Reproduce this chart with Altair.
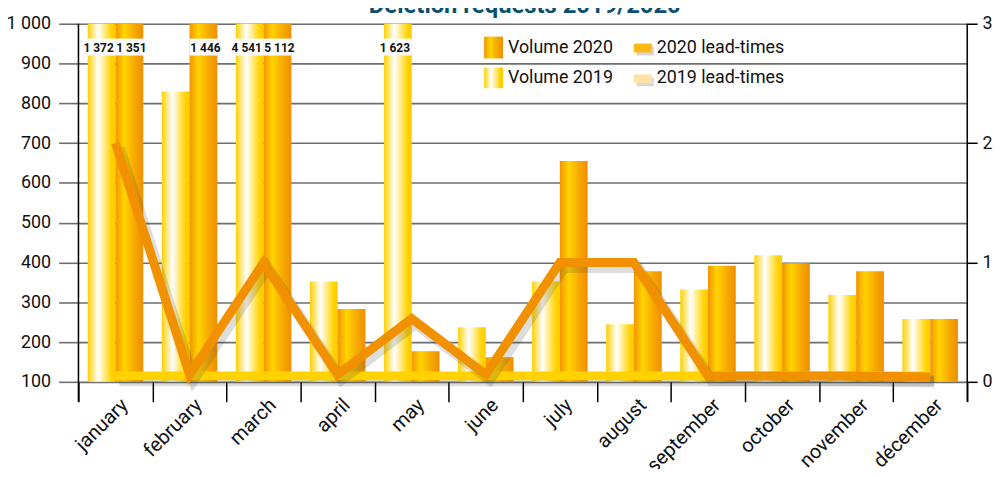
import altair as alt
import pandas as pd

months = ["january", "february", "march", "april", "may", "june", "july",
          "august", "september", "october", "november", "décember"]
vol_2019 = [1372, 830, 4541, 352, 1623, 237, 352, 245, 332, 418, 318, 258]
vol_2020 = [1351, 1446, 5112, 283, 177, 162, 655, 378, 392, 398, 378, 258]
lead_2019 = [0.05, 0.05, 0.05, 0.05, 0.05, 0.05, 0.05, 0.05, 0.05, 0.05, 0.05, 0.05]
lead_2020 = [2.0, 0.06, 1.0, 0.06, 0.53, 0.06, 1.0, 1.0, 0.05, 0.05, 0.05, 0.04]
left_ticks = [100, 200, 300, 400, 500, 600, 700, 800, 900, 1000]
right_ticks = [0, 1, 2, 3]
title_text = "Deletion requests 2019/2020"
legend_bars = ["Volume 2020", "Volume 2019"]
legend_lines = ["2020 lead-times", "2019 lead-times"]

FONT = "Roboto"
W, H = 896, 361
CAP = 1000

rows = []
for i, m in enumerate(months):
    rows.append({"month": m, "year": "2019", "vol": vol_2019[i], "lead": lead_2019[i]})
    rows.append({"month": m, "year": "2020", "vol": vol_2020[i], "lead": lead_2020[i]})
df = pd.DataFrame(rows)
df["label"] = df["vol"].map(lambda v: f"{v:,}".replace(",", " "))
df["over"] = df["vol"] > CAP

g2019 = alt.LinearGradient(gradient="linear", x1=0, x2=1, y1=0, y2=0, stops=[
    alt.GradientStop(color="#FFD000", offset=0),
    alt.GradientStop(color="#FFFFFF", offset=0.38),
    alt.GradientStop(color="#FFD400", offset=0.85),
    alt.GradientStop(color="#FFC800", offset=1)])
g2020 = alt.LinearGradient(gradient="linear", x1=0, x2=1, y1=0, y2=0, stops=[
    alt.GradientStop(color="#F29400", offset=0),
    alt.GradientStop(color="#FFD400", offset=0.32),
    alt.GradientStop(color="#F7A800", offset=0.7),
    alt.GradientStop(color="#EF8E00", offset=1)])

xenc = alt.X("month:N", sort=months,
             scale=alt.Scale(paddingInner=0, paddingOuter=0),
             axis=alt.Axis(title=None, domain=False, ticks=True, tickBand="extent",
                           tickSize=20, tickColor="#000000", tickWidth=1.5,
                           labelAngle=315, labelAlign="right", labelBaseline="middle",
                           labelPadding=0, labelOffset=9, labelFont=FONT, labelFontSize=20,
                           labelColor="#111111", grid=False))
xoff = alt.XOffset("year:N", scale=alt.Scale(domain=["2019", "2020"], paddingInner=0,
                                             paddingOuter=0.333))

yscale_l = alt.Scale(domain=[100, 1000], clamp=True, nice=False, zero=False)
yleft = alt.Y("vol:Q", scale=yscale_l,
              axis=alt.Axis(title=None, values=left_ticks, format=",d",
                            labelExpr="replace(datum.label, ',', ' ')",
                            domain=False, grid=True, gridColor="#6E6E6E", gridWidth=1.6,
                            tickColor="#6E6E6E", tickWidth=1.6, tickSize=20, labelPadding=8,
                            labelFont=FONT, labelFontSize=18, labelColor="#111111"))

base = alt.Chart(df)

bars19 = base.transform_filter(alt.datum.year == "2019").mark_bar(color=g2019).encode(
    x=xenc, xOffset=xoff, y=yleft, y2=alt.datum(100))
bars20 = base.transform_filter(alt.datum.year == "2020").mark_bar(color=g2020).encode(
    x=xenc, xOffset=xoff, y=yleft, y2=alt.datum(100))
gaps = base.transform_filter(alt.datum.over).mark_bar(color="white").encode(
    x=xenc, xOffset=xoff, y=alt.value(15), y2=alt.value(32))
labels19 = base.transform_filter((alt.datum.year == "2019") & alt.datum.over).mark_text(
    font=FONT, fontSize=12, fontWeight="bold", color="#111111", baseline="middle", dx=-3).encode(
    x=xenc, xOffset=xoff, y=alt.value(24), text="label:N")
labels20 = base.transform_filter((alt.datum.year == "2020") & alt.datum.over).mark_text(
    font=FONT, fontSize=12, fontWeight="bold", color="#111111", baseline="middle", dx=2).encode(
    x=xenc, xOffset=xoff, y=alt.value(24), text="label:N")

yscale_r = alt.Scale(domain=[0, 3], nice=False, zero=True)
yright = alt.Y("lead:Q", scale=yscale_r,
               axis=alt.Axis(title=None, orient="right", values=right_ticks, domain=False,
                             grid=False, tickColor="#000000", tickWidth=1.5, tickSize=10,
                             labelPadding=5, labelFont=FONT, labelFontSize=18,
                             labelColor="#111111"))

d19 = base.transform_filter(alt.datum.year == "2019")
d20 = base.transform_filter(alt.datum.year == "2020")
shadow19 = d19.mark_line(color="#444444", opacity=0.18, strokeWidth=11, xOffset=4, yOffset=5,
                         strokeCap="butt").encode(x=xenc, y=yright)
line19 = d19.mark_line(color="#FFD200", strokeWidth=9, strokeCap="butt").encode(x=xenc, y=yright)
shadow20 = d20.mark_line(color="#444444", opacity=0.18, strokeWidth=11, xOffset=4, yOffset=5,
                         strokeCap="butt").encode(x=xenc, y=yright)
line20 = d20.mark_line(color="#F29100", strokeWidth=9, strokeCap="butt").encode(x=xenc, y=yright)

one = pd.DataFrame({"k": [0]})


def fixed_rule(x):
    return alt.Chart(one).mark_rule(color="#000000", strokeWidth=1.5).encode(
        x=alt.value(x), y=alt.value(0), y2=alt.value(H + 20))


def fixed_rect(x1, x2, y1, y2, color, **kw):
    return alt.Chart(one).mark_rect(color=color, **kw).encode(
        x=alt.value(x1), x2=alt.value(x2), y=alt.value(y1), y2=alt.value(y2))


def fixed_text(x, y, txt, **kw):
    return alt.Chart(one).mark_text(**kw).encode(
        x=alt.value(x), y=alt.value(y), text=alt.value(txt))


title = fixed_text(450, -11, title_text, font=FONT, fontSize=24, fontWeight="bold",
                   color="#0B4F6E", baseline="alphabetic", align="center")

legend_layers = [
    fixed_rect(409, 428, 13, 35, g2020),
    fixed_rect(409, 428, 44, 65, g2019),
    fixed_text(433, 24, legend_bars[0], font=FONT, fontSize=18, color="#111111",
               align="left", baseline="middle"),
    fixed_text(433, 55, legend_bars[1], font=FONT, fontSize=18, color="#111111",
               align="left", baseline="middle"),
    fixed_rect(563, 580, 23, 32, "#777777", opacity=0.3),
    fixed_rect(560, 578, 20, 29, "#FDB913"),
    fixed_rect(563, 580, 54, 63, "#777777", opacity=0.3),
    fixed_rect(560, 578, 51, 60, "#FFE3A6"),
    fixed_text(583, 24, legend_lines[0], font=FONT, fontSize=18, color="#111111",
               align="left", baseline="middle"),
    fixed_text(583, 55, legend_lines[1], font=FONT, fontSize=18, color="#111111",
               align="left", baseline="middle"),
]

left = alt.layer(bars19, bars20, gaps, labels19, labels20)
right = alt.layer(shadow19, line19, shadow20, line20)

chart = alt.layer(left, right).resolve_scale(y="independent")
chart = alt.layer(chart, fixed_rule(0), fixed_rule(W), title, *legend_layers).properties(
    width=W, height=H,
    autosize=alt.AutoSizeParams(type="none"),
    padding={"left": 71, "top": 14, "right": 28, "bottom": 86},
).configure_view(stroke=None).configure(background="white")

chart.save("out.html", embed_options={"renderer": "svg", "actions": False})
